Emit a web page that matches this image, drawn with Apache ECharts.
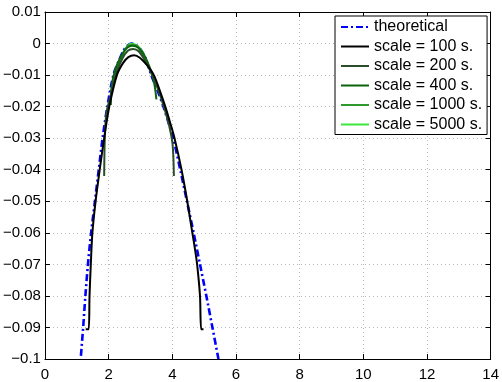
<!DOCTYPE html>
<html>
<head>
<meta charset="utf-8">
<script src="https://cdn.jsdelivr.net/npm/echarts@6/dist/echarts.min.js"></script>
<style>
  html, body { margin: 0; padding: 0; background: #fff; }
  #chart { width: 502px; height: 382px; }
</style>
</head>
<body>
<div id="chart"></div>
<script>
// values, [x, y]
const theoretical = [
  [1.13, -0.099], [1.20, -0.09], [1.27, -0.08], [1.35, -0.07], [1.45, -0.06],
  [1.57, -0.05], [1.69, -0.04], [1.81, -0.03], [1.96, -0.02], [2.15, -0.01],
  [2.32, -0.0055], [2.47, -0.0022], [2.60, -0.0006], [2.72, 0], [2.85, -0.0004],
  [3.0, -0.0018], [3.16, -0.0047], [3.34, -0.01], [3.54, -0.015], [3.72, -0.02],
  [3.88, -0.025], [4.03, -0.03], [4.25, -0.04], [4.46, -0.05], [4.67, -0.06],
  [4.87, -0.07], [5.07, -0.08], [5.26, -0.09], [5.45, -0.1]
];
const scale100 = [
  [1.28, -0.0906], [1.37, -0.0906], [1.40, -0.08], [1.44, -0.07], [1.49, -0.06],
  [1.59, -0.05], [1.72, -0.04], [1.86, -0.03], [2.02, -0.02], [2.26, -0.01],
  [2.45, -0.0062], [2.62, -0.0043], [2.80, -0.0037], [2.98, -0.0045], [3.2, -0.0068],
  [3.42, -0.01], [3.61, -0.015], [3.78, -0.02], [3.93, -0.025], [4.07, -0.03],
  [4.29, -0.04], [4.47, -0.05], [4.63, -0.06], [4.71, -0.065], [4.78, -0.07],
  [4.87, -0.08], [4.91, -0.0906], [4.98, -0.0906]
];
const scale200 = [
  [1.86, -0.042], [1.88, -0.03], [1.93, -0.022], [2.05, -0.017], [2.22, -0.01],
  [2.42, -0.005], [2.60, -0.0023], [2.77, -0.0017], [2.95, -0.0025], [3.15, -0.0055],
  [3.37, -0.01], [3.57, -0.015], [3.75, -0.0205], [3.90, -0.026], [4.01, -0.032],
  [4.05, -0.042]
];
const scale400 = [
  [2.07, -0.0195], [2.09, -0.014], [2.2, -0.0085], [2.4, -0.0038], [2.58, -0.0013],
  [2.75, -0.0007], [2.93, -0.0013], [3.12, -0.0037], [3.3, -0.0078], [3.42, -0.012],
  [3.47, -0.015], [3.5, -0.0177]
];
const scale1000 = [
  [2.22, -0.0105], [2.3, -0.0068], [2.45, -0.0032], [2.6, -0.0008], [2.75, -0.0003],
  [2.9, -0.0008], [3.05, -0.0032], [3.2, -0.0065]
];
const scale5000 = [
  [2.42, -0.0042], [2.55, -0.0014], [2.7, -0.0001], [2.85, -0.0004], [3.0, -0.0017],
  [3.12, -0.0038]
];
const seriesNames = ['theoretical', 'scale = 100 s.', 'scale = 200 s.', 'scale = 400 s.', 'scale = 1000 s.', 'scale = 5000 s.'];
const seriesData = [theoretical, scale100, scale200, scale400, scale1000, scale5000];
const seriesColors = ['#0000ff', '#000000', '#2a4d2a', '#0b640b', '#2e9a2e', '#3de63d'];

const font = "'Liberation Sans', Arial, Helvetica, sans-serif";
const chart = echarts.init(document.getElementById('chart'), null, { renderer: 'canvas' });

const fmt = v => (Math.round(v * 100) / 100).toString().replace('-', '\u2212');

const gridLine = {
  show: true,
  lineStyle: { color: '#b8b8b8', width: 1, type: [1, 3] },
};
const frameAxis = {
  axisLine: { show: true, onZero: false, lineStyle: { color: '#000', width: 1 } },
  axisTick: { show: true, inside: true, length: 5, lineStyle: { color: '#000' } },
  axisLabel: { show: false },
  splitLine: { show: false },
};

chart.setOption({
  animation: false,
  backgroundColor: '#fff',
  grid: { left: 43, top: 12, right: 11, bottom: 19, containLabel: false },
  legend: {
    orient: 'vertical',
    left: 335,
    top: 16,
    data: seriesNames,
    backgroundColor: '#fff',
    borderColor: '#000',
    borderWidth: 1,
    borderRadius: 0,
    padding: [3, 5, 2, 5],
    itemWidth: 28,
    itemHeight: 16,
    itemGap: 3.5,
    itemStyle: { opacity: 0 },
    textStyle: { fontSize: 16, color: '#000', fontFamily: font, lineHeight: 16 },
  },
  xAxis: [
    {
      type: 'value', min: 0, max: 14, interval: 2, position: 'bottom',
      axisLine: { show: true, onZero: false, lineStyle: { color: '#000', width: 1 } },
      axisTick: { show: true, inside: true, length: 5, lineStyle: { color: '#000' } },
      axisLabel: { fontSize: 15, color: '#000', fontFamily: font, margin: 8 },
      splitLine: gridLine,
    },
    { type: 'value', min: 0, max: 14, interval: 2, position: 'top', ...frameAxis },
  ],
  yAxis: [
    {
      type: 'value', min: -0.1, max: 0.01, interval: 0.01, position: 'left',
      axisLine: { show: true, onZero: false, lineStyle: { color: '#000', width: 1 } },
      axisTick: { show: true, inside: true, length: 5, lineStyle: { color: '#000' } },
      axisLabel: { fontSize: 15, color: '#000', fontFamily: font, margin: 4, formatter: fmt },
      splitLine: gridLine,
    },
    { type: 'value', min: -0.1, max: 0.01, interval: 0.01, position: 'right', ...frameAxis },
  ],
  series: seriesNames.map((name, i) => ({
    name: name,
    type: 'line',
    data: seriesData[i],
    symbol: 'none',
    showSymbol: false,
    smooth: 0.3,
    z: i === 0 ? 1 : 10 - i,
    color: seriesColors[i],
    lineStyle: {
      color: seriesColors[i],
      width: i === 0 ? 2.6 : 2,
      type: i === 0 ? [7, 3, 2, 3] : 'solid',
    },
  })),
});
</script>
</body>
</html>
